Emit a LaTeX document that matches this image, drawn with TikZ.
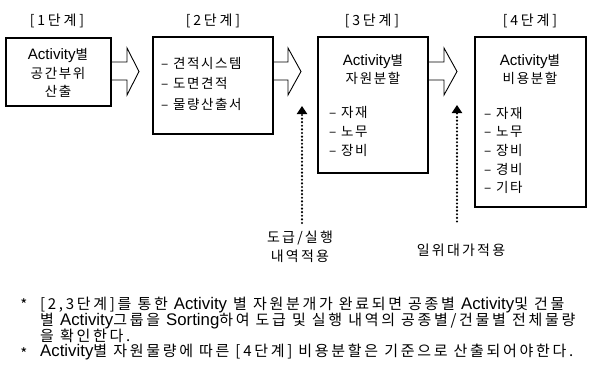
\documentclass[tikz,border=0pt]{standalone}
\usepackage{fontspec}
\setmainfont{Noto Sans CJK KR}[LetterSpace=12]
\newfontfamily\latfont{Liberation Sans}[Scale=1.12]
\newcommand\LA[1]{{\latfont #1}}
\usetikzlibrary{arrows.meta,calc}
\begin{document}
\begin{tikzpicture}[x=1pt,y=-1pt,
  box/.style={draw,line width=1.8pt,inner sep=0pt,outer sep=0pt,anchor=north west},
  blockarrow/.style={draw,line width=0.9pt,line join=miter},
  txt/.style={font=\fontsize{13.5}{18.5}\selectfont,inner sep=0pt},
  stagelbl/.style={font=\fontsize{14}{16}\selectfont\addfontfeatures{LetterSpace=20},inner sep=0pt},
  lbltxt/.style={font=\fontsize{14}{19}\selectfont\addfontfeatures{LetterSpace=16},inner sep=0pt,align=center},
  listtxt/.style={font=\fontsize{13.5}{18.7}\selectfont,inner sep=0pt,align=left,anchor=west},
  notetxt/.style={font=\fontsize{15}{16.3}\selectfont\addfontfeatures{LetterSpace=18},inner sep=0pt,align=left,anchor=west},
  dotarrow/.style={line width=2.4pt,line cap=round,dash pattern=on 0pt off 3.6pt,
    -{Triangle[width=10pt,length=8pt]}},
]
\useasboundingbox (0,0) rectangle (592,378);

% stage labels
\node[stagelbl] (s1) at (57,21) {[1단계]};
\node[stagelbl] (s2) at (213,21) {[2단계]};
\node[stagelbl] (s3) at (372,21) {[3단계]};
\node[stagelbl] (s4) at (530,21) {[4단계]};

% boxes
\node[box,minimum width=105pt,minimum height=68pt] (b1) at (6,38) {};
\node[box,minimum width=120pt,minimum height=97pt] (b2) at (153,37) {};
\node[box,minimum width=110pt,minimum height=136pt] (b3) at (318,37) {};
\node[box,minimum width=111pt,minimum height=170pt] (b4) at (475,37) {};

% block arrows
\draw[blockarrow] ($(b1.north east)+(0,24)$) -- ++(16,0) -- ++(0,-14) -- ++(12,23.5)
  -- ++(-12,23.5) -- ++(0,-15) -- ++(-16,0);
\draw[blockarrow] ($(b2.north east)+(0,25)$) -- ++(15,0) -- ++(0,-14) -- ++(13,23.5)
  -- ++(-13,23.5) -- ++(0,-15) -- ++(-15,0);
\draw[blockarrow] ($(b3.north east)+(0,25)$) -- ++(16,0) -- ++(0,-14) -- ++(13,23.5)
  -- ++(-13,23.5) -- ++(0,-15) -- ++(-16,0);

% box texts
\node[txt,align=center] (t1) at (58,73) {\LA{Activity}별\\공간부위\\산출};
\node[listtxt,font=\fontsize{13.5}{20.5}\selectfont] (t2) at (161,83.5) {– 견적시스템\\– 도면견적\\– 물량산출서};
\node[txt,align=center,font=\fontsize{13.5}{18}\selectfont] (t3a) at (373,69) {\LA{Activity}별\\자원분할};
\node[listtxt] (t3b) at (329,131.5) {– 자재\\– 노무\\– 장비};
\node[txt,align=center,font=\fontsize{13.5}{18}\selectfont] (t4a) at (530,69) {\LA{Activity}별\\비용분할};
\node[listtxt] (t4b) at (484,150.5) {– 자재\\– 노무\\– 장비\\– 경비\\– 기타};

% dotted arrows and labels
\coordinate (p1) at (302,106);
\coordinate (p2) at (457,105);
\node[lbltxt] (l1) at (300,247) {도급/실행\\내역적용};
\node[lbltxt] (l2) at (461,250) {일위대가적용};
\draw[dotarrow,shorten <=8pt] (l1.north -| p1) -- (p1);
\draw[dotarrow,shorten <=22pt] (l2.north -| p2) -- (p2);

% notes
\node[notetxt,anchor=center] (st1) at (24,305) {*};
\node[notetxt] (n1) at (40,320) {[2,3단계]를 통한 \LA{Activity} 별 자원분개가 완료되면 공종별 \LA{Activity}및 건물\\별 \LA{Activity}그룹을 \LA{Sorting}하여 도급 및 실행 내역의 공종별/건물별 전체물량\\을 확인한다.};
\node[notetxt,anchor=center] (st2) at (24,354) {*};
\node[notetxt] (n2) at (40,352) {\LA{Activity}별 자원물량에 따른 [4단계] 비용분할은 기준으로 산출되어야한다.};
\end{tikzpicture}
\end{document}
